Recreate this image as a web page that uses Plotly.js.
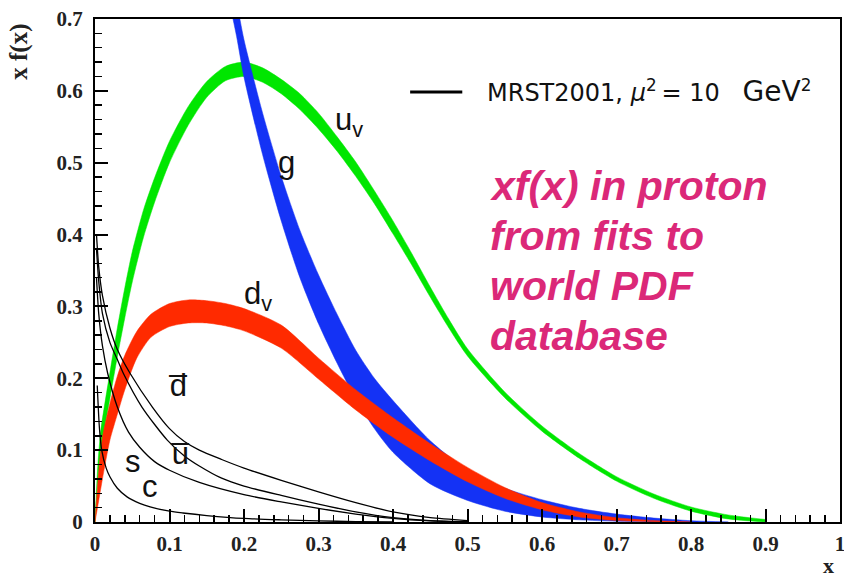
<!DOCTYPE html>
<html>
<head>
<meta charset="utf-8">
<script src="https://cdn.plot.ly/plotly-3.0.1.min.js"></script>
<style>html,body{margin:0;padding:0;background:#fff;}#chart{width:844px;height:580px;}</style>
</head>
<body>
<div id="chart"></div>
<script>
// ---- data ----
// u_v band (green): upper and lower edge
const uvX  = [0, 0.004, 0.008, 0.02, 0.03, 0.04, 0.05, 0.065, 0.08, 0.1, 0.125, 0.15, 0.175, 0.2, 0.225, 0.25, 0.275, 0.3, 0.325, 0.35, 0.375, 0.4, 0.425, 0.45, 0.475, 0.5, 0.55, 0.6, 0.65, 0.7, 0.75, 0.8, 0.85, 0.9];
const uvHi = [0, 0.082, 0.129, 0.208, 0.270, 0.326, 0.376, 0.434, 0.479, 0.530, 0.578, 0.613, 0.634, 0.640, 0.632, 0.616, 0.596, 0.569, 0.536, 0.501, 0.461, 0.419, 0.374, 0.327, 0.282, 0.241, 0.181, 0.1336, 0.0953, 0.0631, 0.039, 0.0209, 0.0098, 0.0035];
const uvLo = [0, 0.058, 0.099, 0.172, 0.230, 0.284, 0.334, 0.396, 0.445, 0.500, 0.552, 0.591, 0.614, 0.620, 0.612, 0.596, 0.574, 0.547, 0.516, 0.481, 0.443, 0.401, 0.358, 0.313, 0.270, 0.231, 0.173, 0.1264, 0.0887, 0.0569, 0.033, 0.0151, 0.0042, 0];
// gluon band (blue)
const gX  = [0.175, 0.19, 0.2, 0.225, 0.25, 0.275, 0.3, 0.325, 0.35, 0.375, 0.4, 0.45, 0.5, 0.55, 0.6, 0.65, 0.7, 0.75, 0.8, 0.85];
const gHi = [0.79, 0.724, 0.671, 0.569, 0.481, 0.406, 0.344, 0.289, 0.239, 0.200, 0.169, 0.113, 0.072, 0.047, 0.031, 0.019, 0.011, 0.0055, 0.0018, 0];
const gLo = [0.75, 0.676, 0.619, 0.511, 0.419, 0.340, 0.276, 0.221, 0.171, 0.130, 0.097, 0.053, 0.030, 0.015, 0.007, 0.003, 0.001, 0, 0, 0];
// d_v band (red)
const dvX  = [0, 0.005, 0.01, 0.02, 0.03, 0.04, 0.056, 0.075, 0.1, 0.125, 0.15, 0.175, 0.2, 0.25, 0.3, 0.35, 0.4, 0.45, 0.5, 0.55, 0.6, 0.65, 0.7, 0.75, 0.8];
const dvHi = [0, 0.07, 0.118, 0.165, 0.203, 0.232, 0.265, 0.289, 0.304, 0.309, 0.308, 0.304, 0.297, 0.274, 0.228, 0.184, 0.145, 0.109, 0.076, 0.048, 0.027, 0.014, 0.006, 0.002, 0];
const dvLo = [0, 0.03, 0.06, 0.114, 0.15, 0.184, 0.228, 0.257, 0.272, 0.277, 0.277, 0.273, 0.266, 0.242, 0.199, 0.156, 0.118, 0.085, 0.056, 0.033, 0.017, 0.007, 0.002, 0.0005, 0];
// sea quarks (black lines)
const dbarX = [0.002, 0.005, 0.01, 0.02, 0.03, 0.047, 0.077, 0.1, 0.12, 0.14, 0.17, 0.2, 0.25, 0.3, 0.35, 0.4, 0.45, 0.5];
const dbarY = [0.40, 0.355, 0.315, 0.27, 0.24, 0.207, 0.16, 0.13, 0.112, 0.100, 0.087, 0.075, 0.058, 0.042, 0.027, 0.014, 0.006, 0.002];
const ubarX = [0.002, 0.005, 0.01, 0.02, 0.03, 0.038, 0.063, 0.097, 0.12, 0.14, 0.17, 0.2, 0.25, 0.3, 0.35, 0.4, 0.45, 0.5];
const ubarY = [0.38, 0.335, 0.29, 0.25, 0.226, 0.207, 0.16, 0.114, 0.092, 0.078, 0.061, 0.050, 0.037, 0.025, 0.014, 0.006, 0.002, 0.0005];
const sX    = [0.002, 0.005, 0.01, 0.017, 0.03, 0.045, 0.06, 0.08, 0.1, 0.14, 0.2, 0.25, 0.3, 0.35, 0.4, 0.45, 0.5];
const sY    = [0.34, 0.29, 0.245, 0.207, 0.16, 0.125, 0.104, 0.084, 0.072, 0.055, 0.038, 0.028, 0.019, 0.011, 0.005, 0.0015, 0];
const cX    = [0.003, 0.006, 0.009, 0.015, 0.02, 0.03, 0.043, 0.06, 0.074, 0.1, 0.118, 0.15, 0.2, 0.25, 0.3, 0.35, 0.4];
const cY    = [0.19, 0.13, 0.10, 0.075, 0.063, 0.047, 0.035, 0.026, 0.021, 0.015, 0.0125, 0.009, 0.005, 0.003, 0.0015, 0.0006, 0];
// tick values
const xTicks = [0, 0.1, 0.2, 0.3, 0.4, 0.5, 0.6, 0.7, 0.8, 0.9, 1];
const yTicks = [0, 0.1, 0.2, 0.3, 0.4, 0.5, 0.6, 0.7];
const boxLines = ['xf(x) in proton', 'from fits to', 'world PDF', 'database'];

// ---- build ----
function band(x, lo, hi, color) {
  return [
    {x: x, y: lo, mode: 'lines', line: {color: color, width: 0.5, shape: 'spline', smoothing: 0.7}, hoverinfo: 'skip', showlegend: false},
    {x: x, y: hi, mode: 'lines', fill: 'tonexty', fillcolor: color, line: {color: color, width: 0.5, shape: 'spline', smoothing: 0.7}, hoverinfo: 'skip', showlegend: false}
  ];
}
function sea(x, y) {
  return {x: x, y: y, mode: 'lines', line: {color: '#000', width: 1.3, shape: 'spline', smoothing: 0.7}, hoverinfo: 'skip', showlegend: false};
}
const GREEN = '#00e600', BLUE = '#1432f5', RED = '#ff2a00';
const data = [].concat(
  band(uvX, uvLo, uvHi, GREEN),
  band(gX, gLo, gHi, BLUE),
  band(dvX, dvLo, dvHi, RED),
  [sea(dbarX, dbarY), sea(ubarX, ubarY), sea(sX, sY), sea(cX, cY)]
);

const tickFont = {family: 'Liberation Serif', size: 21, color: '#222', weight: 'bold'};
const labFont = {family: 'Liberation Sans', size: 31, color: '#111'};
const axisCommon = {
  showline: true, linecolor: '#000', linewidth: 2, mirror: true,
  ticks: 'inside', ticklen: 13, tickwidth: 2, tickcolor: '#000',
  showgrid: false, zeroline: false, tickfont: tickFont, fixedrange: true,
  ticklabeloverflow: 'allow'
};
const minorTicks = {dtick: 0.02, tick0: 0, ticks: 'inside', ticklen: 7, tickwidth: 1.5, tickcolor: '#000'};
const boxY = [0.668, 0.569, 0.469, 0.370];
const annotations = [
  {xref: 'paper', yref: 'paper', x: 0.524, y: 0.855, xanchor: 'left', yanchor: 'middle', showarrow: false,
   text: 'MRST2001, <i>μ</i><sup>2</sup>\u2009=\u00a010\u00a0\u00a0\u00a0<span style="font-size:28px">GeV</span><sup>2</sup>',
   font: {family: 'DejaVu Sans', size: 24, color: '#111'}},
  {xref: 'x', yref: 'y', x: 0.320, y: 0.556, xanchor: 'left', yanchor: 'middle', showarrow: false, text: 'u<sub>v</sub>', font: labFont},
  {xref: 'x', yref: 'y', x: 0.243, y: 0.500, xanchor: 'left', yanchor: 'middle', showarrow: false, text: 'g', font: labFont},
  {xref: 'x', yref: 'y', x: 0.197, y: 0.314, xanchor: 'left', yanchor: 'middle', showarrow: false, text: 'd<sub>v</sub>', font: labFont},
  {xref: 'x', yref: 'y', x: 0.095, y: 0.190, xanchor: 'left', yanchor: 'middle', showarrow: false, text: 'd\u0305', font: labFont},
  {xref: 'x', yref: 'y', x: 0.098, y: 0.095, xanchor: 'left', yanchor: 'middle', showarrow: false, text: 'u\u0305', font: labFont},
  {xref: 'x', yref: 'y', x: 0.037, y: 0.084, xanchor: 'left', yanchor: 'middle', showarrow: false, text: 's', font: labFont},
  {xref: 'x', yref: 'y', x: 0.061, y: 0.050, xanchor: 'left', yanchor: 'middle', showarrow: false, text: 'c', font: labFont},
  {xref: 'paper', yref: 'paper', x: -0.102, y: 0.935, xanchor: 'center', yanchor: 'middle', textangle: -90, showarrow: false,
   text: 'x\u00a0f(x)', font: {family: 'Liberation Serif', size: 25, color: '#222', weight: 'bold'}},
  {xref: 'paper', yref: 'paper', x: 0.984, y: -0.1153, xanchor: 'center', yanchor: 'bottom', showarrow: false,
   text: 'x', font: {family: 'Liberation Serif', size: 22, color: '#222', weight: 'bold'}}
];
boxLines.forEach(function (t, i) {
  annotations.push({xref: 'paper', yref: 'paper', x: 0.528, y: boxY[i], xanchor: 'left', yanchor: 'middle', showarrow: false,
    text: t, font: {family: 'Liberation Sans', size: 41, color: '#db2878', weight: 'bold', style: 'italic'}});
});
const layout = {
  width: 844, height: 580,
  margin: {l: 95, r: 4, t: 19, b: 58},
  paper_bgcolor: '#fff', plot_bgcolor: '#fff',
  showlegend: false,
  xaxis: Object.assign({}, axisCommon, {range: [0, 1], tickvals: xTicks, ticktext: xTicks.map(String), minor: minorTicks, ticklabelstandoff: 2}),
  yaxis: Object.assign({}, axisCommon, {range: [0, 0.7], tickvals: yTicks, ticktext: yTicks.map(String), minor: minorTicks, ticklabelstandoff: 6}),
  shapes: [
    {type: 'line', xref: 'paper', yref: 'paper', x0: 0.423, x1: 0.493, y0: 0.855, y1: 0.855, line: {color: '#000', width: 3}}
  ],
  annotations: annotations
};
Plotly.newPlot('chart', data, layout, {displayModeBar: false, staticPlot: true});
</script>
</body>
</html>
